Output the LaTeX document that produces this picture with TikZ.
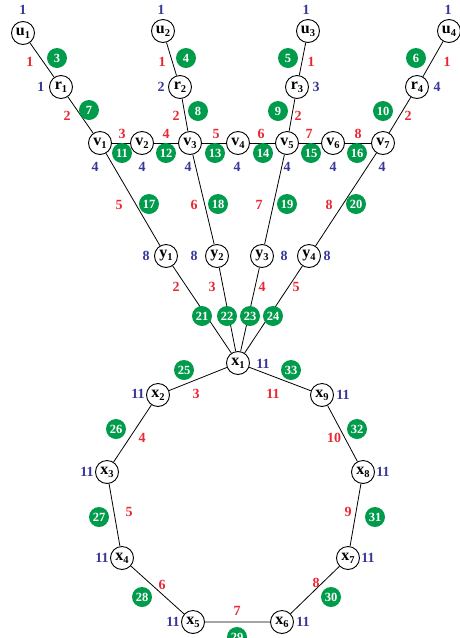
\documentclass[tikz,border=0pt]{standalone}
\usepackage{fontspec}
\setmainfont{Liberation Serif}
\definecolor{gr}{RGB}{0,155,75}
\definecolor{rd}{RGB}{232,40,50}
\definecolor{bu}{RGB}{55,55,150}
\newcommand\nlab[2]{#1\raisebox{-0.4ex}{\fontsize{10.5}{10.5}\selectfont #2}}
\begin{document}
\begin{tikzpicture}[x=1pt,y=-1pt,
 vtx/.style={circle,draw,line width=0.9pt,fill=white,minimum size=23pt,inner sep=0pt,font=\bfseries\fontsize{16}{16}\selectfont},
 gn/.style={circle,fill=gr,text=white,minimum size=20pt,inner sep=0pt,font=\bfseries\fontsize{12.5}{12.5}\selectfont},
 rl/.style={text=rd,inner sep=0pt,font=\bfseries\fontsize{14}{14}\selectfont},
 bl/.style={text=bu,inner sep=0pt,font=\bfseries\fontsize{14}{14}\selectfont},
 edge/.style={line width=0.8pt}]
\useasboundingbox (0,0) rectangle (460,638);
% vertices
\node[vtx] (u1) at (23,33) {\nlab{u}{1}};
\node[vtx] (u2) at (163,31) {\nlab{u}{2}};
\node[vtx] (u3) at (308,31) {\nlab{u}{3}};
\node[vtx] (u4) at (449,31) {\nlab{u}{4}};
\node[vtx] (r1) at (61,87) {\nlab{r}{1}};
\node[vtx] (r2) at (180,87) {\nlab{r}{2}};
\node[vtx] (r3) at (297,87) {\nlab{r}{3}};
\node[vtx] (r4) at (417,87) {\nlab{r}{4}};
\node[vtx] (v1) at (100,143) {\nlab{v}{1}};
\node[vtx] (v2) at (142,143) {\nlab{v}{2}};
\node[vtx] (v3) at (190,143) {\nlab{v}{3}};
\node[vtx] (v4) at (238,143) {\nlab{v}{4}};
\node[vtx] (v5) at (287,143) {\nlab{v}{5}};
\node[vtx] (v6) at (333,143) {\nlab{v}{6}};
\node[vtx] (v7) at (383,143) {\nlab{v}{7}};
\node[vtx] (y1) at (166,256) {\nlab{y}{1}};
\node[vtx] (y2) at (217,256) {\nlab{y}{2}};
\node[vtx] (y3) at (262,256) {\nlab{y}{3}};
\node[vtx] (y4) at (309,256) {\nlab{y}{4}};
\node[vtx] (x1) at (238,363) {\nlab{x}{1}};
\node[vtx] (x2) at (158,395) {\nlab{x}{2}};
\node[vtx] (x3) at (107,472) {\nlab{x}{3}};
\node[vtx] (x4) at (122,558) {\nlab{x}{4}};
\node[vtx] (x5) at (193,622) {\nlab{x}{5}};
\node[vtx] (x6) at (282,622) {\nlab{x}{6}};
\node[vtx] (x7) at (348,558) {\nlab{x}{7}};
\node[vtx] (x8) at (363,472) {\nlab{x}{8}};
\node[vtx] (x9) at (322,395) {\nlab{x}{9}};
% edges
\draw[edge] (u1)--(r1) (u2)--(r2) (u3)--(r3) (u4)--(r4);
\draw[edge] (r1)--(v1) (r2)--(v3) (r3)--(v5) (r4)--(v7);
\draw[edge] (v1)--(v2) (v2)--(v3) (v3)--(v4) (v4)--(v5) (v5)--(v6) (v6)--(v7);
\draw[edge] (v1)--(y1) (v3)--(y2) (v5)--(y3) (v7)--(y4);
\draw[edge] (y1)--(x1) (y2)--(x1) (y3)--(x1) (y4)--(x1);
\draw[edge] (x1)--(x2) (x2)--(x3) (x3)--(x4) (x4)--(x5) (x5)--(x6) (x6)--(x7) (x7)--(x8) (x8)--(x9) (x9)--(x1);
% blue vertex labels
\node[bl] (bu1) at (23,10) {1};
\node[bl] (bu2) at (161,10) {1};
\node[bl] (bu3) at (306,10) {1};
\node[bl] (bu4) at (448,10) {1};
\node[bl] (br1) at (41,87) {1};
\node[bl] (br2) at (161,87) {2};
\node[bl] (br3) at (316,87) {3};
\node[bl] (br4) at (437,87) {4};
\node[bl] (bv1) at (95,167) {4};
\node[bl] (bv2) at (142,167) {4};
\node[bl] (bv3) at (188,167) {4};
\node[bl] (bv4) at (237,167) {4};
\node[bl] (bv5) at (287,167) {4};
\node[bl] (bv6) at (333,167) {4};
\node[bl] (bv7) at (382,167) {4};
\node[bl] (by1) at (146,256) {8};
\node[bl] (by2) at (194,256) {8};
\node[bl] (by3) at (284,256) {8};
\node[bl] (by4) at (327,256) {8};
\node[bl] (bx1) at (263,364) {11};
\node[bl] (bx2) at (138,394) {11};
\node[bl] (bx9) at (343,395) {11};
\node[bl] (bx3) at (87,472) {11};
\node[bl] (bx8) at (383,472) {11};
\node[bl] (bx4) at (102,558) {11};
\node[bl] (bx7) at (368,558) {11};
\node[bl] (bx5) at (173,622) {11};
\node[bl] (bx6) at (303,622) {11};
% red edge labels
\node[rl] at (30,62) {1};
\node[rl] at (162,62) {1};
\node[rl] at (311,62) {1};
\node[rl] at (447,62) {1};
\node[rl] at (67,116) {2};
\node[rl] at (176,116) {2};
\node[rl] at (298,116) {2};
\node[rl] at (408,116) {2};
\node[rl] at (122,134) {3};
\node[rl] at (166,134) {4};
\node[rl] at (216,134) {5};
\node[rl] at (261,134) {6};
\node[rl] at (309,134) {7};
\node[rl] at (358,134) {8};
\node[rl] at (119,205) {5};
\node[rl] at (194,205) {6};
\node[rl] at (259,205) {7};
\node[rl] at (329,205) {8};
\node[rl] at (176,287) {2};
\node[rl] at (212,287) {3};
\node[rl] at (262,287) {4};
\node[rl] at (296,287) {5};
\node[rl] at (196,394) {3};
\node[rl] at (142,438) {4};
\node[rl] at (129,512) {5};
\node[rl] at (162,585) {6};
\node[rl] at (237,611) {7};
\node[rl] at (316,583) {8};
\node[rl] at (348,512) {9};
\node[rl] at (334,438) {10};
\node[rl] at (273,394) {11};
% green step numbers
\node[gn] at (57,58) {3};
\node[gn] at (186,58) {4};
\node[gn] at (288,58) {5};
\node[gn] at (416,58) {6};
\node[gn] at (89,110) {7};
\node[gn] at (198,111) {8};
\node[gn] at (278,111) {9};
\node[gn] at (383,111) {10};
\node[gn] at (122,153) {11};
\node[gn] at (166,153) {12};
\node[gn] at (215,153) {13};
\node[gn] at (263,153) {14};
\node[gn] at (311,153) {15};
\node[gn] at (357,153) {16};
\node[gn] at (149,204) {17};
\node[gn] at (218,204) {18};
\node[gn] at (287,204) {19};
\node[gn] at (356,204) {20};
\node[gn] at (202,316) {21};
\node[gn] at (227,316) {22};
\node[gn] at (250,316) {23};
\node[gn] at (273,316) {24};
\node[gn] at (184,370) {25};
\node[gn] at (116,429) {26};
\node[gn] at (99,517) {27};
\node[gn] at (142,597) {28};
\node[gn] at (237,637) {29};
\node[gn] at (331,597) {30};
\node[gn] at (375,517) {31};
\node[gn] at (357,429) {32};
\node[gn] at (291,370) {33};
\end{tikzpicture}
\end{document}
